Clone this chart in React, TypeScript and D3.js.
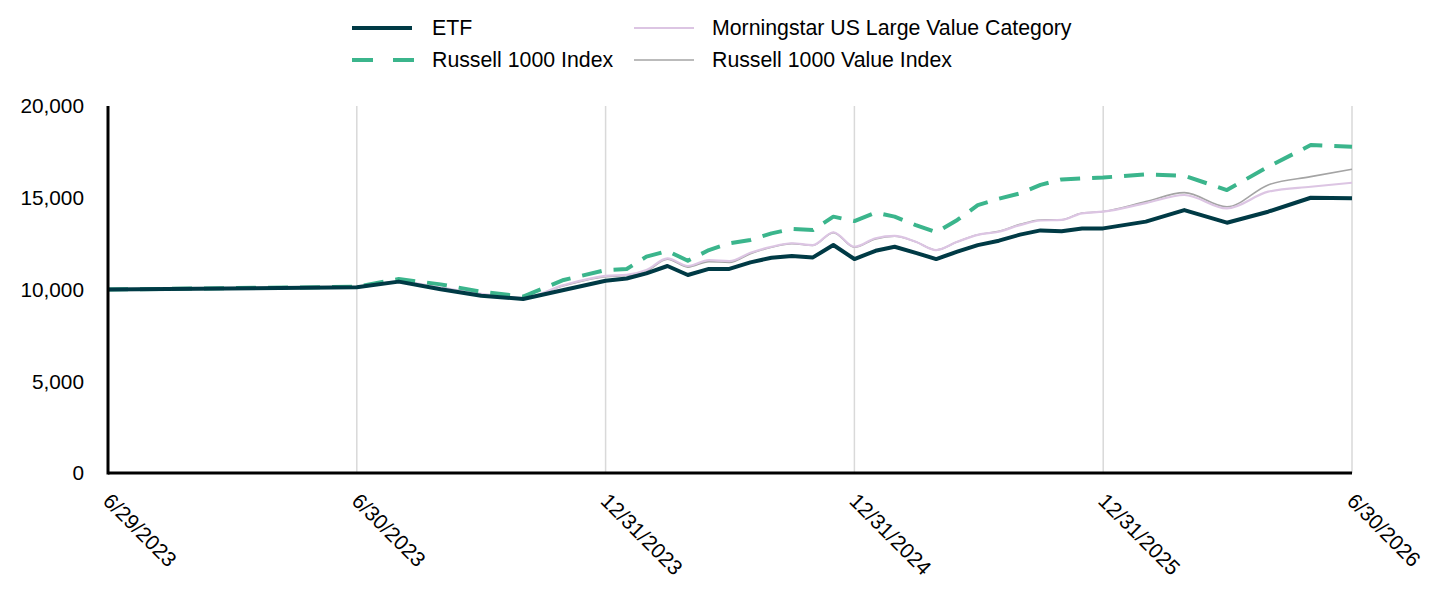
import { useEffect, useRef } from 'react';
import * as d3 from 'd3';

const dates = [
  '2023-06-29', '2023-06-30', '2023-07-31', '2023-08-31', '2023-09-30', '2023-10-31', '2023-11-30', '2023-12-31',
  '2024-01-31', '2024-02-29', '2024-03-31', '2024-04-30', '2024-05-31', '2024-06-30',
  '2024-07-31', '2024-08-31', '2024-09-30', '2024-10-31', '2024-11-30', '2024-12-31',
  '2025-01-31', '2025-02-28', '2025-03-31', '2025-04-30', '2025-05-31', '2025-06-30',
  '2025-07-31', '2025-08-31', '2025-09-30', '2025-10-31', '2025-11-30', '2025-12-31',
  '2026-01-31', '2026-02-28', '2026-03-31', '2026-04-30', '2026-05-31', '2026-06-30',
];

const etf = [
  10000, 10120, 10430, 10010, 9660, 9480, 9970, 10480,
  10600, 10880, 11280, 10790, 11120, 11120, 11480, 11730, 11825, 11750, 12425, 11660,
  12110, 12330, 12000, 11660, 12060, 12420, 12660, 12990, 13220, 13180, 13330, 13330,
  13700, 14330, 13640, 14240, 15000, 14970,
];

const russell1000 = [
  10000, 10150, 10570, 10280, 9880, 9610, 10520, 11060,
  11120, 11790, 12100, 11570, 12150, 12520, 12700, 13060, 13300, 13240, 13970, 13730,
  14190, 13970, 13510, 13120, 13790, 14600, 14950, 15240, 15700, 16000, 16050, 16100,
  16280, 16200, 15420, 16690, 17870, 17780,
];

const morningstar = [
  10000, 10120, 10450, 10100, 9770, 9550, 10240, 10740,
  10800, 11060, 11700, 11280, 11600, 11550, 12000, 12330, 12520, 12420, 13120, 12330,
  12790, 12920, 12600, 12150, 12600, 12980, 13150, 13510, 13760, 13790, 14150, 14240,
  14710, 15150, 14420, 15330, 15600, 15820,
];

const russellValue = [
  10000, 10110, 10430, 10080, 9740, 9520, 10200, 10700,
  10760, 11000, 11650, 11220, 11520, 11480, 11950, 12300, 12500, 12400, 13100, 12300,
  12760, 12900, 12600, 12150, 12600, 12980, 13170, 13550, 13790, 13800, 14170, 14250,
  14790, 15280, 14510, 15700, 16150, 16550,
];

const tickDates = ['2023-06-29', '2023-06-30', '2023-12-31', '2024-12-31', '2025-12-31', '2026-06-30'];
const tickLabels = ['6/29/2023', '6/30/2023', '12/31/2023', '12/31/2024', '12/31/2025', '6/30/2026'];
const yTicks = [0, 5000, 10000, 15000, 20000];

interface Series {
  name: string;
  values: number[];
  color: string;
  width: number;
  dash?: string;
  smooth?: boolean;
}

const series: Series[] = [
  { name: 'Russell 1000 Value Index', values: russellValue, color: '#a4a4a4', width: 1.6, smooth: true },
  { name: 'Morningstar US Large Value Category', values: morningstar, color: '#dcc5e3', width: 2.2, smooth: true },
  { name: 'Russell 1000 Index', values: russell1000, color: '#3bb58c', width: 4, dash: '20,12' },
  { name: 'ETF', values: etf, color: '#003a45', width: 4 },
];

const legendOrder = [
  ['ETF', 'Russell 1000 Index'],
  ['Morningstar US Large Value Category', 'Russell 1000 Value Index'],
];

const W = 1440;
const H = 612;
const margin = { top: 106, right: 88, bottom: 139, left: 108 };
const FONT = 'Arial, "Liberation Sans", sans-serif';

export default function App() {
  const svgRef = useRef<SVGSVGElement>(null);

  useEffect(() => {
    if (!svgRef.current) return;
    const svg = d3.select(svgRef.current);
    svg.selectAll('*').remove();

    const innerW = W - margin.left - margin.right;
    const innerH = H - margin.top - margin.bottom;
    const parse = d3.utcParse('%Y-%m-%d');

    // labelled dates sit evenly spaced, points in between follow their dates
    const x = d3
      .scaleUtc()
      .domain(tickDates.map((d) => parse(d) as Date))
      .range(tickDates.map((_, i) => (i * innerW) / (tickDates.length - 1)));
    const y = d3.scaleLinear().domain([0, 20000]).range([innerH, 0]);

    const g = svg.append('g').attr('transform', `translate(${margin.left},${margin.top})`);

    g.selectAll('.grid')
      .data(tickDates.slice(1))
      .enter()
      .append('line')
      .attr('x1', (d) => x(parse(d) as Date))
      .attr('x2', (d) => x(parse(d) as Date))
      .attr('y1', 0)
      .attr('y2', innerH)
      .attr('stroke', '#d9d9d9')
      .attr('stroke-width', 1.5);

    series.forEach((s) => {
      const line = d3
        .line<number>()
        .x((_, i) => x(parse(dates[i]) as Date))
        .y((v) => y(v))
        .curve(s.smooth ? d3.curveMonotoneX : d3.curveLinear);
      g.append('path')
        .datum(s.values)
        .attr('d', line)
        .attr('fill', 'none')
        .attr('stroke', s.color)
        .attr('stroke-width', s.width)
        .attr('stroke-dasharray', s.dash ?? null)
        .attr('stroke-linejoin', 'round');
    });

    g.append('line')
      .attr('x1', 0)
      .attr('x2', 0)
      .attr('y1', 0)
      .attr('y2', innerH + 1.5)
      .attr('stroke', '#000')
      .attr('stroke-width', 3);
    g.append('line')
      .attr('x1', 0)
      .attr('x2', innerW)
      .attr('y1', innerH)
      .attr('y2', innerH)
      .attr('stroke', '#000')
      .attr('stroke-width', 3);

    g.selectAll('.ylab')
      .data(yTicks)
      .enter()
      .append('text')
      .attr('x', -24)
      .attr('y', (d) => y(d))
      .attr('dy', '0.35em')
      .attr('text-anchor', 'end')
      .style('font-family', FONT)
      .style('font-size', '20.8px')
      .attr('fill', '#000')
      .text((d) => d3.format(',')(d));

    g.selectAll('.xlab')
      .data(tickDates)
      .enter()
      .append('text')
      .attr('transform', (d) => `translate(${x(parse(d) as Date) - 1},${innerH + 24}) rotate(45)`)
      .attr('text-anchor', 'start')
      .attr('dy', '0.35em')
      .style('font-family', FONT)
      .style('font-size', '21px')
      .attr('fill', '#000')
      .text((_, i) => tickLabels[i]);

    const legend = svg.append('g');
    const colX = [352, 634];
    const rowY = [28, 60];
    legendOrder.forEach((col, ci) => {
      col.forEach((name, ri) => {
        const s = series.find((d) => d.name === name)!;
        const lg = legend.append('g').attr('transform', `translate(${colX[ci]},${rowY[ri]})`);
        lg.append('line')
          .attr('x1', 0)
          .attr('x2', s.dash ? 62 : 60)
          .attr('y1', 0)
          .attr('y2', 0)
          .attr('stroke', s.color)
          .attr('stroke-width', s.width)
          .attr('stroke-dasharray', s.dash ? '21,20' : null);
        lg.append('text')
          .attr('x', ci === 0 ? 80 : 78)
          .attr('y', 0)
          .attr('dy', '0.35em')
          .style('font-family', FONT)
          .style('font-size', '21.3px')
          .attr('fill', '#000')
          .text(name);
      });
    });
  }, []);

  return (
    <svg
      ref={svgRef}
      width={W}
      height={H}
      style={{ position: 'absolute', left: 0, top: 0, background: '#fff' }}
    />
  );
}
